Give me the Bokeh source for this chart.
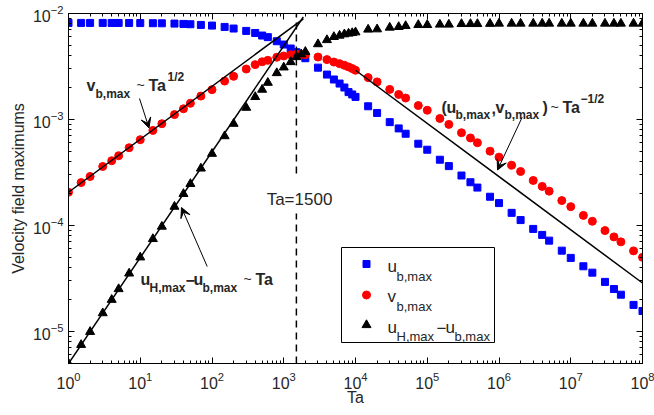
import math
from bokeh.plotting import figure
from bokeh.models import (LogAxis, FixedTicker, Label, Arrow, VeeHead,
                          BoxAnnotation)
from bokeh.embed import file_html
from bokeh.resources import INLINE

# ---------------- data ----------------
ta = [1, 1.5, 2, 3, 4, 5, 7, 10, 15, 20, 30, 40, 50, 70,
      100, 150, 200, 300, 400, 500, 600, 800, 1000, 1250, 1500, 1750, 2000,
      3000, 4000, 5000, 6000, 7000, 8000, 9000,
      1e4, 1.5e4, 2e4, 3e4, 4e4, 5e4, 7.5e4,
      1e5, 1.5e5, 2e5, 3e5, 4e5, 5e5, 7.5e5,
      1e6, 1.5e6, 2e6, 3e6, 4e6, 5e6, 7.5e6,
      1e7, 1.5e7, 2e7, 3e7, 4e7, 5e7, 7.5e7,
      1e8]

u_b_max = [8.15e-3, 8.15e-3, 8.15e-3, 8.15e-3, 8.14e-3, 8.14e-3, 8.13e-3, 8.12e-3,
           8.10e-3, 8.08e-3, 8.03e-3, 7.97e-3, 7.92e-3, 7.80e-3,
           7.69e-3, 7.47e-3, 7.21e-3, 6.85e-3, 6.55e-3, 6.19e-3, 5.98e-3, 5.47e-3,
           5.09e-3, 4.67e-3, 4.31e-3, 4.03e-3, 3.78e-3,
           3.08e-3, 2.65e-3, 2.38e-3, 2.18e-3, 2.00e-3, 1.81e-3, 1.72e-3,
           1.63e-3, 1.33e-3, 1.15e-3, 9.42e-4, 8.22e-4, 7.32e-4, 5.89e-4,
           5.17e-4, 4.16e-4, 3.62e-4, 2.95e-4, 2.55e-4, 2.27e-4, 1.86e-4,
           1.62e-4, 1.31e-4, 1.12e-4, 9.24e-5, 8.11e-5, 7.16e-5, 5.76e-5,
           4.92e-5, 4.10e-5, 3.57e-5, 2.92e-5, 2.50e-5, 2.21e-5, 1.77e-5,
           1.55e-5]

v_b_max = [2.05e-4, 2.53e-4, 2.89e-4, 3.59e-4, 4.07e-4, 4.54e-4, 5.40e-4, 6.43e-4,
           7.87e-4, 9.10e-4, 1.11e-3, 1.26e-3, 1.42e-3, 1.66e-3,
           1.91e-3, 2.30e-3, 2.55e-3, 2.99e-3, 3.29e-3, 3.50e-3, 3.61e-3, 3.86e-3,
           3.97e-3, 4.08e-3, 4.12e-3, 4.10e-3, 4.09e-3,
           3.88e-3, 3.67e-3, 3.48e-3, 3.36e-3, 3.24e-3, 3.13e-3, 3.02e-3,
           2.91e-3, 2.48e-3, 2.26e-3, 1.92e-3, 1.72e-3, 1.59e-3, 1.35e-3,
           1.22e-3, 1.02e-3, 8.97e-4, 7.48e-4, 6.68e-4, 6.02e-4, 5.01e-4,
           4.40e-4, 3.69e-4, 3.22e-4, 2.65e-4, 2.33e-4, 2.10e-4, 1.71e-4,
           1.50e-4, 1.24e-4, 1.09e-4, 8.91e-5, 7.77e-5, 6.97e-5, 5.73e-5,
           4.98e-5]

uh_minus_ub = [4.95e-6, 7.43e-6, 9.86e-6, 1.48e-5, 1.98e-5, 2.50e-5, 3.51e-5, 4.98e-5,
               7.43e-5, 9.72e-5, 1.50e-4, 1.98e-4, 2.46e-4, 3.44e-4,
               4.74e-4, 6.95e-4, 9.10e-4, 1.29e-3, 1.63e-3, 1.91e-3, 2.22e-3, 2.74e-3,
               3.10e-3, 3.48e-3, 3.88e-3, 4.12e-3, 4.35e-3,
               5.14e-3, 5.62e-3, 6.01e-3, 6.19e-3, 6.37e-3, 6.47e-3, 6.55e-3,
               6.65e-3, 7.06e-3, 7.10e-3, 7.37e-3, 7.47e-3, 7.63e-3, 7.80e-3,
               7.80e-3, 7.87e-3, 7.87e-3, 7.97e-3, 7.97e-3, 7.97e-3, 8.00e-3,
               8.04e-3, 8.04e-3, 8.04e-3, 8.04e-3, 8.04e-3, 8.04e-3, 8.04e-3,
               8.04e-3, 8.04e-3, 8.04e-3, 8.04e-3, 8.04e-3, 8.04e-3, 8.04e-3,
               8.04e-3]

# scaling-law guide lines (end points)
fit_half_ta = [1, 1875]
fit_half_v = [2.05e-4, 8.9e-3]
fit_lin_ta = [1, 1875]
fit_lin_v = [4.95e-6, 9.27e-3]
fit_mhalf_ta = [1e4, 1e8]
fit_mhalf_v = [2.91e-3, 2.85e-5]

ta_crit = 1500

x_ticks = [1, 1e1, 1e2, 1e3, 1e4, 1e5, 1e6, 1e7, 1e8]
y_ticks = [1e-5, 1e-4, 1e-3, 1e-2]

X_RANGE = (1, 1e8)
Y_RANGE = (4.95e-6, 1e-2)

# ---------------- layout helpers (page pixel -> data) ----------------
W, H = 654, 415
FL, FR, FT, FB = 68, 642, 13, 363   # frame edges on the page


def px2x(px):
    lo, hi = math.log10(X_RANGE[0]), math.log10(X_RANGE[1])
    return 10 ** (lo + (px - FL) / (FR - FL) * (hi - lo))


def py2y(py):
    lo, hi = math.log10(Y_RANGE[0]), math.log10(Y_RANGE[1])
    return 10 ** (hi - (py - FT) / (FB - FT) * (hi - lo))


FONT = "Liberation Sans"
TXT = "#262626"

p = figure(width=W, height=H, x_axis_type="log", y_axis_type="log",
           x_range=X_RANGE, y_range=Y_RANGE, output_backend="svg",
           toolbar_location=None, min_border_left=FL, min_border_right=W - FR,
           min_border_top=FT, min_border_bottom=H - FB)
p.xgrid.visible = False
p.ygrid.visible = False
p.outline_line_color = "black"
p.outline_line_width = 1
p.background_fill_color = "white"
p.border_fill_color = "white"

x_minor = [m * 10 ** k for k in range(0, 8) for m in range(2, 10)]
y_minor = [m * 10 ** k for k in range(-6, -2) for m in range(2, 10) if m * 10 ** k > Y_RANGE[0]]


def style_axis(ax, labels=True):
    ax.axis_line_color = "black"
    ax.major_tick_line_color = "black"
    ax.minor_tick_line_color = "black"
    ax.major_tick_in = 6
    ax.major_tick_out = 0
    ax.minor_tick_in = 3
    ax.minor_tick_out = 0
    ax.major_label_text_font = FONT
    ax.major_label_text_color = TXT
    ax.axis_label_text_font = FONT
    ax.axis_label_text_color = TXT
    ax.axis_label_text_font_style = "normal"
    if not labels:
        ax.major_label_text_font_size = "1px"
        ax.major_label_text_alpha = 0
        ax.major_label_standoff = 0


xt = FixedTicker(ticks=x_ticks, minor_ticks=x_minor)
yt = FixedTicker(ticks=y_ticks, minor_ticks=y_minor)

p.xaxis.ticker = xt
p.yaxis.ticker = yt
style_axis(p.xaxis[0])
style_axis(p.yaxis[0])
p.xaxis.major_label_text_font_size = "16px"
p.yaxis.major_label_text_font_size = "16px"
p.xaxis.major_label_standoff = 8
p.yaxis.major_label_standoff = 5
p.xaxis.axis_label = "Ta"
p.yaxis.axis_label = "Velocity field maximums"
p.xaxis.axis_label_text_font_size = "16px"
p.yaxis.axis_label_text_font_size = "16px"
p.xaxis.axis_label_standoff = -3
p.yaxis.axis_label_standoff = 3

top = LogAxis(ticker=FixedTicker(ticks=x_ticks, minor_ticks=x_minor))
right = LogAxis(ticker=FixedTicker(ticks=y_ticks, minor_ticks=y_minor))
style_axis(top, labels=False)
style_axis(right, labels=False)
p.add_layout(top, "above")
p.add_layout(right, "right")

# ---------------- data marks ----------------
p.scatter(ta, u_b_max, marker="square", size=7, fill_color="#0000ff", line_color="#0000ff")
p.scatter(ta, v_b_max, marker="circle", size=8, fill_color="#ff0000", line_color="#ff0000")
p.scatter(ta, uh_minus_ub, marker="triangle", size=9, fill_color="black", line_color="black")

p.line(fit_half_ta, fit_half_v, line_color="black", line_width=1.5)
p.line(fit_lin_ta, fit_lin_v, line_color="black", line_width=1.5)
p.line(fit_mhalf_ta, fit_mhalf_v, line_color="black", line_width=1.5)

# vertical dashed line at Ta=1500 with a gap around its label
p.line([ta_crit, ta_crit], [Y_RANGE[0], py2y(213)], line_color="black",
       line_width=1.5, line_dash="7 5")
p.line([ta_crit, ta_crit], [py2y(173), Y_RANGE[1]], line_color="black",
       line_width=1.5, line_dash="7 5")


def lab(px, py, text, size, bold=False, align="left"):
    p.add_layout(Label(x=px2x(px), y=py2y(py), text=text, text_font=FONT,
                       text_font_size=f"{size}px",
                       text_font_style="bold" if bold else "normal",
                       text_color=TXT, text_align=align,
                       text_baseline="alphabetic"))


lab(299, 199, "Ta=1500", 17, align="center")

# annotation 1
lab(86, 85, "v", 16, True)
lab(95, 93, "b,max", 12, True)
lab(136, 84, "~", 14)
lab(148, 85, "Ta", 16, True)
lab(167, 76, "1/2", 12, True)
# annotation 2
lab(140, 279, "u", 16, True)
lab(149, 287, "H,max", 12, True)
lab(185, 279, "\u2212", 16, True)
lab(193, 279, "u", 16, True)
lab(202, 287, "b,max", 12, True)
lab(243, 278, "~", 14)
lab(255, 279, "Ta", 16, True)
# annotation 3
lab(441, 107, "(", 16, True)
lab(446, 107, "u", 16, True)
lab(455, 114, "b,max", 12, True)
lab(491, 107, ",", 16, True)
lab(495, 107, "v", 16, True)
lab(504, 114, "b,max", 12, True)
lab(542, 107, ")", 16, True)
lab(550, 106, "~", 14)
lab(562, 107, "Ta", 16, True)
lab(580, 98, "\u22121/2", 12, True)

for (x0, y0, x1, y1) in [(139, 98, 148.5, 127.5), (206.7, 266, 181, 207),
                         (521.7, 116.7, 497, 169.5)]:
    p.add_layout(Arrow(x_start=px2x(x0), y_start=py2y(y0), x_end=px2x(x1), y_end=py2y(y1),
                       line_color="black", line_width=1,
                       end=VeeHead(size=10, fill_color="black", line_color="black")))

# ---------------- legend (drawn by hand for subscripts) ----------------
p.add_layout(BoxAnnotation(left=px2x(341), right=px2x(494), top=py2y(247), bottom=py2y(342),
                           fill_color="white", fill_alpha=1, line_color="black",
                           line_width=1, line_alpha=1, level="underlay"))
p.scatter([px2x(366)], [py2y(263.5)], marker="square", size=7,
          fill_color="#0000ff", line_color="#0000ff")
p.scatter([px2x(366)], [py2y(294.5)], marker="circle", size=8,
          fill_color="#ff0000", line_color="#ff0000")
p.scatter([px2x(366)], [py2y(324.5)], marker="triangle", size=9,
          fill_color="black", line_color="black")
lab(387, 266, "u", 17)
lab(396, 276, "b,max", 13)
lab(387, 296, "v", 17)
lab(396, 306, "b,max", 13)
lab(387, 327, "u", 17)
lab(396, 336, "H,max", 13)
lab(436, 327, "\u2212", 17)
lab(445, 327, "u", 17)
lab(454, 336, "b,max", 13)

open("out.html", "w").write(file_html(p, INLINE))
